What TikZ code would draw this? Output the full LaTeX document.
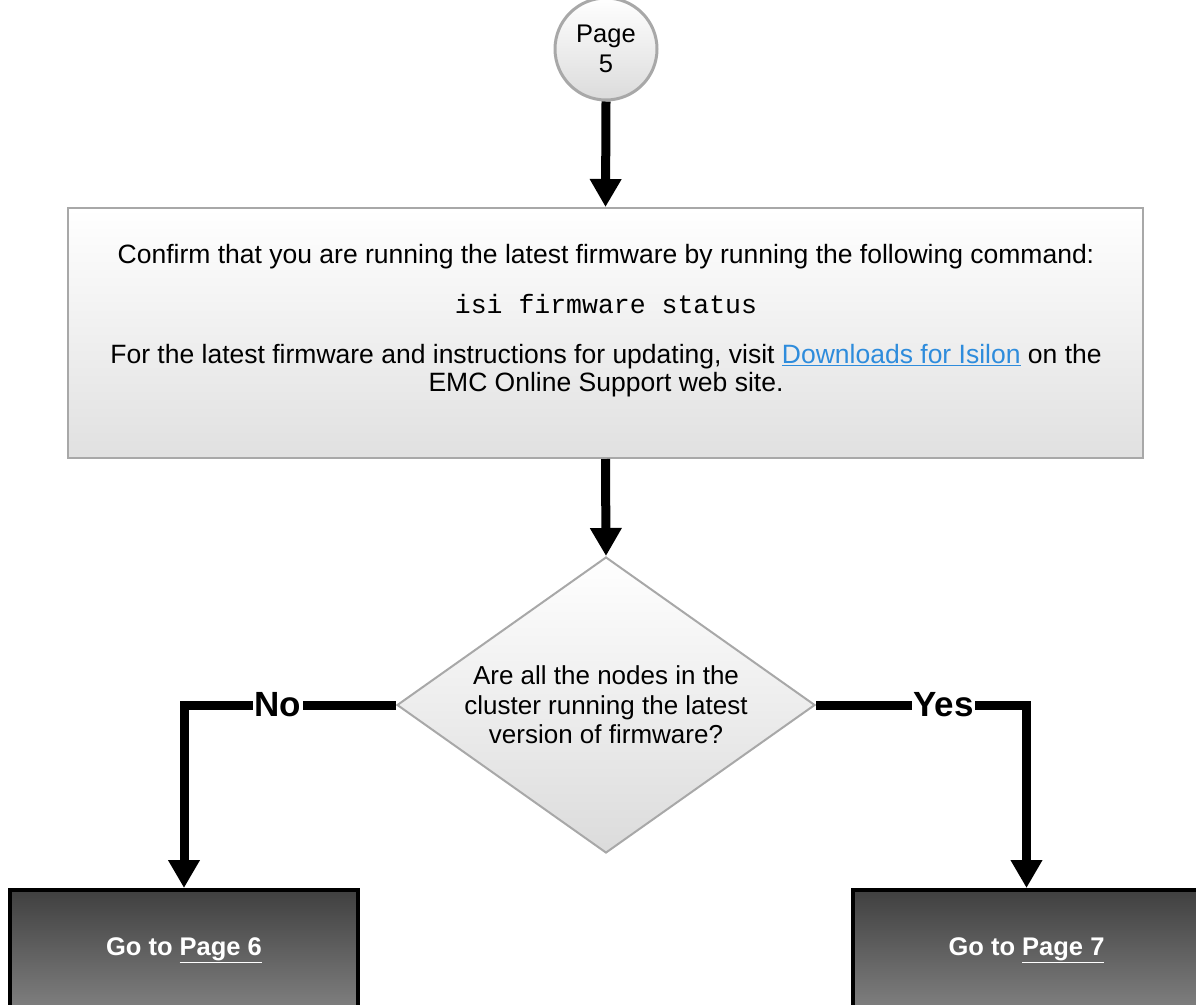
\documentclass[tikz,border=0pt]{standalone}
\usepackage{fontspec}
\setmainfont{Liberation Sans}
\setmonofont{Liberation Mono}
\usetikzlibrary{shapes.geometric,arrows.meta}

\definecolor{linkblue}{RGB}{46,140,220}
\definecolor{rimgray}{RGB}{168,168,168}

\tikzset{
  flow/.style={line width=9pt, -{Triangle[width=30pt,length=28pt]}},
  branch/.style={line width=9pt, -{Triangle[width=30pt,length=28pt]}},
  branchlabel/.style={fill=white, inner sep=1.5pt, font=\fontsize{35}{36}\selectfont\bfseries},
  pagecircle/.style={circle, draw=rimgray, line width=3pt, minimum size=102pt, inner sep=0pt,
    top color=white, bottom color=black!14, align=center,
    font=\fontsize{25.5}{30}\selectfont},
  stepbox/.style={rectangle, draw=rimgray, line width=2pt, minimum width=1075pt, minimum height=250pt,
    top color=white, bottom color=black!12},
  boxtext/.style={align=center, inner sep=0pt, font=\fontsize{26.5}{28}\selectfont},
  decision/.style={diamond, draw=rimgray, line width=2pt, minimum width=418pt, minimum height=296pt,
    aspect=1.41, inner sep=0pt, top color=white, bottom color=black!14, align=center,
    font=\fontsize{26}{29.5}\selectfont},
  gobox/.style={rectangle, draw=black, line width=4pt, minimum width=348pt, minimum height=120pt,
    top color=black!75, bottom color=black!50, text=white,
    font=\fontsize{25.5}{28}\selectfont\bfseries},
}

\begin{document}
\begin{tikzpicture}[x=1pt,y=-1pt]
\useasboundingbox (0,0) rectangle (1196,1004);

% start connector
\node[pagecircle] (start) at (606,49) {Page\\5};

% firmware check instructions
\node[stepbox] (check) at (605.5,333) {};
\node[boxtext] (checktext) at (606,321)
  {Confirm that you are running the latest firmware by running the following command:\\[22pt]
   {\ttfamily isi firmware status}\\[22pt]
   For the latest firmware and instructions for updating, visit
   {\color{linkblue}\underline{Downloads for Isilon}} on the\\
   EMC Online Support web site.};

% decision
\node[decision] (ask) at (606,705)
  {Are all the nodes in the\\cluster running the latest\\version of firmware?};

% targets
\node[gobox] (page6) at (184,950) {Go to \underline{Page 6}};
\node[gobox] (page7) at (1026.5,950) {Go to \underline{Page 7}};

% connectors
\draw[flow] (start.south) -- (check.north);
\draw[flow] (check.south) -- (ask.north);
\draw[branch] (ask.west) -| node[branchlabel, pos=0.279] {No} (page6.north);
\draw[branch] (ask.east) -| node[branchlabel, pos=0.303] {Yes} (page7.north);
\end{tikzpicture}
\end{document}
